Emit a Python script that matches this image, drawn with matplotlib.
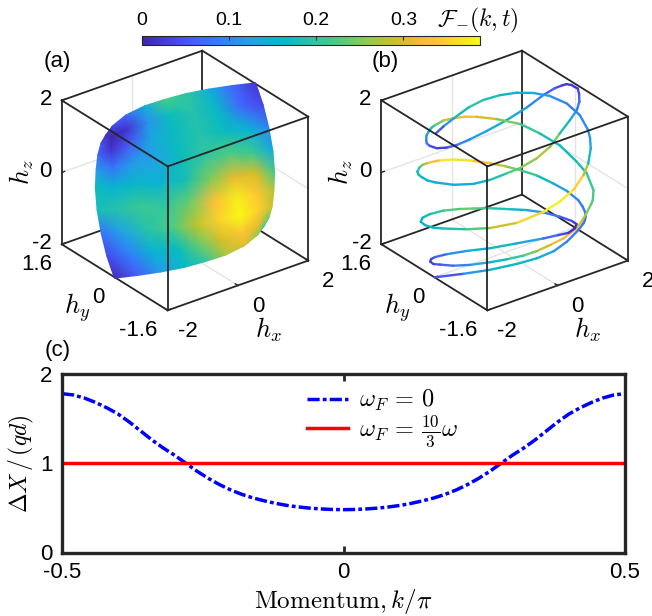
import numpy as np
import matplotlib
matplotlib.use("Agg")
import matplotlib.pyplot as plt
from matplotlib.cm import ScalarMappable
from matplotlib.colors import LinearSegmentedColormap, Normalize
from mpl_toolkits.mplot3d import proj3d
from mpl_toolkits.mplot3d.art3d import Line3DCollection

plt.rcParams['font.family'] = ['Liberation Sans', 'DejaVu Sans']
plt.rcParams['mathtext.fontset'] = 'cm'
plt.rcParams['axes.unicode_minus'] = False

# parula colours
parula_colors = [(0.2422, 0.1504, 0.6603), (0.2706, 0.2147, 0.8364), (0.2813, 0.3006, 0.9414),
                 (0.2699, 0.3892, 0.9906), (0.1963, 0.4847, 0.9892), (0.1687, 0.5703, 0.9359),
                 (0.1248, 0.6459, 0.8883), (0.0297, 0.7082, 0.8163), (0.0433, 0.7411, 0.7394),
                 (0.1717, 0.7670, 0.6554), (0.2470, 0.7918, 0.5567), (0.3909, 0.8029, 0.4354),
                 (0.5616, 0.7942, 0.3045), (0.7242, 0.7698, 0.1910), (0.8634, 0.7406, 0.1596),
                 (0.9728, 0.7298, 0.2394), (0.9952, 0.7861, 0.1967), (0.9628, 0.8903, 0.1301),
                 (0.9769, 0.9839, 0.0805)]
parula = LinearSegmentedColormap.from_list('parula', parula_colors)
f_max = 0.388
cbar_ticks = [0, 0.1, 0.2, 0.3]

# panel (a), the sheet, row by row from the lower edge to the upper edge
sheet_x = [[-2.00, -1.59, -1.18, -0.77, -0.39, -0.03, 0.31, 0.57, 0.73],
           [-1.94, -1.54, -1.13, -0.70, -0.30, 0.09, 0.46, 0.76, 0.98],
           [-1.85, -1.47, -1.05, -0.62, -0.20, 0.21, 0.60, 0.94, 1.20],
           [-1.74, -1.37, -0.97, -0.53, -0.11, 0.31, 0.73, 1.10, 1.40],
           [-1.59, -1.25, -0.86, -0.43, 0.00, 0.43, 0.86, 1.25, 1.59],
           [-1.40, -1.10, -0.73, -0.31, 0.11, 0.53, 0.97, 1.37, 1.74],
           [-1.20, -0.94, -0.60, -0.21, 0.20, 0.62, 1.05, 1.47, 1.85],
           [-0.98, -0.76, -0.46, -0.09, 0.30, 0.70, 1.13, 1.54, 1.94],
           [-0.73, -0.57, -0.31, 0.03, 0.39, 0.77, 1.18, 1.59, 2.00]]
sheet_y = [[0.01, -0.26, -0.53, -0.80, -1.04, -1.26, -1.46, -1.59, -1.62],
           [0.30, 0.04, -0.23, -0.51, -0.78, -1.02, -1.25, -1.42, -1.50],
           [0.57, 0.32, 0.05, -0.24, -0.51, -0.78, -1.03, -1.23, -1.36],
           [0.81, 0.59, 0.32, 0.03, -0.25, -0.53, -0.80, -1.03, -1.20],
           [1.02, 0.82, 0.57, 0.29, 0.00, -0.29, -0.57, -0.82, -1.02],
           [1.20, 1.03, 0.80, 0.53, 0.25, -0.03, -0.32, -0.59, -0.81],
           [1.36, 1.23, 1.03, 0.78, 0.51, 0.24, -0.05, -0.32, -0.57],
           [1.50, 1.42, 1.25, 1.02, 0.78, 0.51, 0.23, -0.04, -0.30],
           [1.62, 1.59, 1.46, 1.26, 1.04, 0.80, 0.53, 0.26, -0.01]]
sheet_z = [[-2.03, -1.94, -1.83, -1.69, -1.52, -1.34, -1.09, -0.80, -0.59],
           [-1.61, -1.56, -1.46, -1.35, -1.23, -1.09, -0.89, -0.67, -0.51],
           [-1.15, -1.11, -1.03, -0.95, -0.86, -0.75, -0.61, -0.45, -0.35],
           [-0.68, -0.65, -0.58, -0.50, -0.44, -0.37, -0.27, -0.15, -0.09],
           [-0.25, -0.22, -0.14, -0.06, 0.00, 0.06, 0.14, 0.22, 0.25],
           [0.09, 0.15, 0.27, 0.37, 0.44, 0.50, 0.58, 0.65, 0.68],
           [0.35, 0.45, 0.61, 0.75, 0.86, 0.95, 1.03, 1.11, 1.15],
           [0.51, 0.67, 0.89, 1.09, 1.23, 1.35, 1.46, 1.56, 1.61],
           [0.59, 0.80, 1.09, 1.34, 1.52, 1.69, 1.83, 1.94, 2.03]]
sheet_f = [[0.01, 0.06, 0.12, 0.16, 0.20, 0.27, 0.31, 0.26, 0.19],
           [0.04, 0.09, 0.15, 0.17, 0.24, 0.30, 0.34, 0.31, 0.24],
           [0.08, 0.13, 0.19, 0.22, 0.28, 0.35, 0.385, 0.35, 0.29],
           [0.18, 0.19, 0.21, 0.20, 0.24, 0.33, 0.375, 0.34, 0.28],
           [0.17, 0.15, 0.16, 0.15, 0.18, 0.25, 0.31, 0.30, 0.22],
           [0.12, 0.08, 0.12, 0.13, 0.17, 0.20, 0.225, 0.21, 0.14],
           [0.07, 0.02, 0.06, 0.135, 0.17, 0.19, 0.17, 0.15, 0.10],
           [0.05, 0.00, 0.02, 0.11, 0.17, 0.19, 0.16, 0.07, 0.04],
           [0.00, 0.04, 0.07, 0.14, 0.22, 0.20, 0.14, 0.07, 0.02]]

# panel (b), the curve
curve_x = [-2.00, -1.72, -1.45, -1.05, -0.68, -0.30, 0.05, 0.43, 0.63, 1.21, 0.74, 1.22, 1.18,
           1.79, 1.82, 1.77, 1.64, 1.46, 1.25, 1.01, 0.66, 0.24, -0.18, -0.60, -1.24, -0.98, -1.32, -1.30,
           -1.67, -1.17, -1.81, -1.79, -1.64, -1.45, -1.22, -1.00, -0.68, -0.29, 0.28, 0.85, 1.26, 1.55, 1.77,
           1.91, 1.90, 1.90, 1.83, 1.81, 1.78, 1.70, 1.54, 1.28, 0.95, 0.62, 0.32, 0.06, -0.23, -0.49, -1.18,
           -1.19, -1.18, -1.77, -1.11, -1.74, -1.46, -1.21, -0.96, -0.75, -0.45, -0.17, 0.53, 0.83, 1.09, 1.24,
           1.34, 1.33, 1.30, 0.78, 1.17, 0.37, -0.04, -0.38, -0.68, -0.94, -1.22, -1.45, -1.67, -1.79, -1.82,
           -1.63, -1.62, -1.53, -1.40, -1.10, -0.64, -0.14, 0.48, 1.11, 1.48, 1.73, 1.98, 1.92, 1.82, 1.80, 1.70,
           1.54, 1.32, 1.01, 0.69, 0.40, -0.03, -0.47, -0.79, -1.27, -1.73, -1.81, -1.82, -1.70, -1.45, -1.05,
           -0.53, -0.13, 0.26, 0.63, 0.88, 1.30, 1.29, 1.64, 1.78, 1.82, 1.75, 1.61, 1.42, 1.17, 0.89, 0.59, 0.24,
           -0.03, -0.26]
curve_y = [0.00, -0.59, -1.10, -1.49, -1.69, -1.80, -1.82, -1.77, -1.71, -1.14, -1.66, -1.14, -1.10,
           -0.32, 0.06, 0.42, 0.78, 1.09, 1.32, 1.52, 1.70, 1.80, 1.81, 1.72, 1.16, 1.53, 1.24, 1.22,
           0.73, 1.09, 0.18, -0.35, -0.80, -1.10, -1.36, -1.52, -1.69, -1.68, -1.37, -1.07, -0.84, -0.61, -0.37,
           -0.18, -0.10, 0.00, 0.08, 0.20, 0.38, 0.64, 0.97, 1.30, 1.55, 1.71, 1.79, 1.82, 1.81, 1.75, 1.10,
           1.11, 1.11, 0.42, 1.04, 0.25, 0.30, 0.26, 0.18, 0.05, -0.24, -0.65, -0.50, -0.78, -1.02, -1.16,
           -1.26, -1.25, -1.22, -1.64, -1.10, -1.78, -1.82, -1.78, -1.69, -1.56, -1.36, -1.10, -0.73, -0.35, 0.02,
           0.42, 0.53, 0.60, 0.62, 0.58, 0.46, 0.29, 0.15, 0.01, -0.05, -0.09, -0.02, -0.13, -0.09, 0.25, 0.64,
           0.97, 1.25, 1.52, 1.68, 1.78, 1.82, 1.76, 1.64, 1.19, 0.57, 0.23, -0.08, -0.66, -1.10, -1.49,
           -1.74, -1.81, -1.80, -1.71, -1.59, -1.22, -1.21, -0.78, -0.38, 0.06, 0.50, 0.85, 1.15, 1.39, 1.59, 1.72, 1.80,
           1.82, 1.80]
curve_z = [-2.00, -1.66, -1.35, -1.10, -0.96, -0.83, -0.68, -0.51, -0.43, -0.87, -0.31, -0.66, -0.50,
           -0.98, -0.95, -0.93, -0.87, -0.84, -0.79, -0.74, -0.65, -0.53, -0.42, -0.30, 0.20, -0.17, -0.01, -0.09,
           0.25, -0.22, 0.47, 0.70, 0.93, 1.15, 1.40, 1.56, 1.82, 2.00, 2.00, 2.00, 2.00, 2.00, 2.00,
           2.00, 2.00, 2.00, 2.00, 1.90, 1.73, 1.42, 0.94, 0.49, 0.16, -0.05, -0.15, -0.15, -0.06, 0.13, 0.81,
           0.90, 1.02, 1.73, 1.25, 2.00, 2.00, 2.00, 2.00, 2.00, 2.00, 2.00, 1.41, 1.14, 0.73, 0.44,
           -0.01, -0.29, -0.43, -0.24, -0.89, -0.44, -0.55, -0.64, -0.76, -0.87, -0.99, -1.14, -1.35, -1.55, -1.72,
           -2.00, -2.00, -2.00, -2.00, -2.00, -2.00, -2.00, -2.00, -2.00, -2.00, -2.00, -2.00, -1.80, -1.70, -1.77, -1.84,
           -1.91, -1.97, -1.99, -1.98, -1.95, -1.87, -1.78, -1.70, -1.39, -0.97, -0.82, -0.66, -0.39, -0.19, 0.04,
           0.31, 0.50, 0.68, 0.91, 1.08, 1.14, 1.42, 1.28, 1.42, 1.48, 1.46, 1.39, 1.29, 1.17, 1.02, 0.84, 0.61,
           0.47, 0.37]
curve_f = [0.02, 0.08, 0.15, 0.17, 0.15, 0.12, 0.09, 0.08, 0.08, 0.08, 0.08, 0.08, 0.08,
           0.09, 0.11, 0.14, 0.19, 0.23, 0.27, 0.31, 0.35, 0.38, 0.36, 0.29, 0.26, 0.22, 0.18, 0.17,
           0.16, 0.15, 0.14, 0.13, 0.14, 0.17, 0.21, 0.24, 0.27, 0.28, 0.21, 0.15, 0.10, 0.07, 0.05,
           0.03, 0.02, 0.02, 0.02, 0.03, 0.05, 0.07, 0.12, 0.15, 0.14, 0.11, 0.08, 0.04, 0.02, 0.05, 0.07,
           0.09, 0.11, 0.14, 0.17, 0.20, 0.27, 0.31, 0.33, 0.32, 0.27, 0.22, 0.19, 0.17, 0.17, 0.19,
           0.22, 0.22, 0.23, 0.26, 0.28, 0.31, 0.33, 0.31, 0.26, 0.22, 0.18, 0.15, 0.11, 0.08, 0.05,
           0.04, 0.03, 0.03, 0.05, 0.08, 0.13, 0.17, 0.16, 0.09, 0.05, 0.02, 0.01, 0.01, 0.03, 0.06, 0.10,
           0.14, 0.17, 0.20, 0.24, 0.24, 0.21, 0.18, 0.16, 0.15, 0.15, 0.16, 0.17, 0.20, 0.25, 0.33,
           0.38, 0.38, 0.37, 0.33, 0.22, 0.13, 0.12, 0.11, 0.09, 0.09, 0.11, 0.13, 0.15, 0.16, 0.20, 0.19, 0.15,
           0.08, 0.02]

# panel (c)
k_vals = [-0.5, -0.48, -0.46, -0.44, -0.42, -0.40, -0.38, -0.36, -0.34, -0.32, -0.30, -0.28, -0.26, -0.24, -0.22,
          -0.20, -0.18, -0.16, -0.14, -0.12, -0.10, -0.08, -0.06, -0.04, -0.02, 0,
          0.02, 0.04, 0.06, 0.08, 0.10, 0.12, 0.14, 0.16, 0.18, 0.20, 0.22, 0.24, 0.26, 0.28, 0.30,
          0.32, 0.34, 0.36, 0.38, 0.40, 0.42, 0.44, 0.46, 0.48, 0.5]
dx_static = [1.78, 1.765, 1.73, 1.68, 1.62, 1.55, 1.46, 1.36, 1.26, 1.17, 1.09, 1.00, 0.91, 0.83, 0.76,
             0.70, 0.65, 0.61, 0.578, 0.55, 0.527, 0.51, 0.497, 0.488, 0.482, 0.48,
             0.482, 0.488, 0.497, 0.51, 0.527, 0.55, 0.578, 0.61, 0.65, 0.70, 0.76, 0.83, 0.91, 1.00, 1.09,
             1.17, 1.26, 1.36, 1.46, 1.55, 1.62, 1.68, 1.73, 1.765, 1.78]
dx_driven = [1.0] * len(k_vals)

x_ticks = [-2, 0, 2]
y_ticks = [-1.6, 0, 1.6]
z_ticks = [-2, 0, 2]

W, H = 652, 616
fig = plt.figure(figsize=(W / 100, H / 100), dpi=100)
edge_col = '#262626'
grid_col = '#e4e4e4'
norm = Normalize(0, f_max)


def project(ax, xs, ys, zs):
    a, b, _ = proj3d.proj_transform(np.ravel(xs), np.ravel(ys), np.ravel(zs), ax.get_proj())
    return a.reshape(np.shape(xs)), b.reshape(np.shape(xs))


def make_box(left_px):
    # ax size from the wanted length of the cube edges in pixels
    size = 288.8
    pos = [left_px / W, 287.2 / H, size / W, size / H]
    ax = fig.add_axes(pos, projection='3d')
    ax.set_proj_type('ortho')
    ax.view_init(elev=28, azim=-127)
    ax.set_xlim(-2, 2, view_margin=0)
    ax.set_ylim(-1.6, 1.6, view_margin=0)
    ax.set_zlim(-2, 2, view_margin=0)
    ax.set_box_aspect((176, 176, 163))
    ax.set_xticks([])
    ax.set_yticks([])
    ax.set_zticks([])
    ax.set_axis_off()
    ax.patch.set_alpha(0)

    # grid on the three back walls
    for t in x_ticks[1:-1]:
        ax.plot([t, t], [1.6, 1.6], [-2, 2], color=grid_col, lw=1)
        ax.plot([t, t], [-1.6, 1.6], [-2, -2], color=grid_col, lw=1)
    for t in y_ticks[1:-1]:
        ax.plot([2, 2], [t, t], [-2, 2], color=grid_col, lw=1)
        ax.plot([-2, 2], [t, t], [-2, -2], color=grid_col, lw=1)
    for t in z_ticks[1:-1]:
        ax.plot([-2, 2], [1.6, 1.6], [t, t], color=grid_col, lw=1)
        ax.plot([2, 2], [-1.6, 1.6], [t, t], color=grid_col, lw=1)

    # back and lower edges
    for e in [([-2, 2], [1.6, 1.6], [2, 2]), ([2, 2], [-1.6, 1.6], [2, 2]), ([2, 2], [1.6, 1.6], [-2, 2]),
              ([-2, 2], [1.6, 1.6], [-2, -2]), ([2, 2], [-1.6, 1.6], [-2, -2]),
              ([-2, -2], [1.6, 1.6], [-2, 2]), ([2, 2], [-1.6, -1.6], [-2, 2]),
              ([-2, 2], [-1.6, -1.6], [-2, -2]), ([-2, -2], [-1.6, 1.6], [-2, -2])]:
        ax.plot(*e, color=edge_col, lw=1.3)

    # ticks
    for t in x_ticks:
        ax.plot([t, t], [-1.6, -1.52], [-2, -2], color=edge_col, lw=1)
        ax.text(t, -2.2, -2.25, str(t), ha='center', va='center', fontsize=16)
    for t in y_ticks:
        ax.plot([-2, -1.92], [t, t], [-2, -2], color=edge_col, lw=1)
        ax.text(-2.28, t, -2.46, str(t), ha='right', va='center', fontsize=16)
    for t in z_ticks:
        ax.plot([-2, -1.92], [1.6, 1.6], [t, t], color=edge_col, lw=1)
        ax.text(-2.28, 1.6, t + 0.13, str(t), ha='right', va='center', fontsize=16)

    ax.text(0.29, -2.2, -3.0, r'$h_x$', ha='center', va='center', fontsize=19)
    ax.text(-2.2, 0.92, -3.31, r'$h_y$', ha='center', va='center', fontsize=19)
    ax.text(-3.15, 1.6, 0.41, r'$h_z$', zdir='z', ha='center', va='center', fontsize=19)

    # second layer on the same spot, for what lies over the 3d content
    top = fig.add_axes(pos)
    top.set_xlim(-0.095, 0.09)
    top.set_ylim(-0.095, 0.09)
    top.set_xticks([])
    top.set_yticks([])
    top.set_axis_off()
    return ax, top


def front_edges(ax, top):
    for e in [([-2, -2], [-1.6, 1.6], [2, 2]), ([-2, 2], [-1.6, -1.6], [2, 2]), ([-2, -2], [-1.6, -1.6], [-2, 2])]:
        a, b = project(ax, *e)
        top.plot(a, b, color=edge_col, lw=1.3, zorder=5)


# (a)
ax_a, top_a = make_box(36.7)
px, py = project(ax_a, np.array(sheet_x), np.array(sheet_y), np.array(sheet_z))
top_a.pcolormesh(px, py, np.array(sheet_f), shading='gouraud', cmap=parula, norm=norm, zorder=2)
front_edges(ax_a, top_a)

# (b)
ax_b, top_b = make_box(356.4)
pts = np.column_stack([curve_x, curve_y, curve_z])
segs = np.stack([pts[:-1], pts[1:]], axis=1)
seg_f = (np.array(curve_f[:-1]) + np.array(curve_f[1:])) / 2
ax_b.add_collection3d(Line3DCollection(segs, colors=parula(norm(seg_f)), linewidths=1.7, capstyle='round'))
front_edges(ax_b, top_b)

fig.text(57 / W, 1 - 62 / H, '(a)', fontsize=16, ha='center', va='center')
fig.text(385 / W, 1 - 62 / H, '(b)', fontsize=16, ha='center', va='center')
fig.text(58 / W, 1 - 350 / H, '(c)', fontsize=16, ha='center', va='center')

# colorbar
cax = fig.add_axes([142 / W, 1 - 44.5 / H, 338 / W, 9 / H])
cb = fig.colorbar(ScalarMappable(norm=norm, cmap=parula), cax=cax, orientation='horizontal')
cb.set_ticks(cbar_ticks)
cb.set_ticklabels(['0', '0.1', '0.2', '0.3'])
cax.xaxis.set_ticks_position('top')
cax.tick_params(direction='in', length=3, width=0.8, labelsize=14, pad=5, color=edge_col)
cb.outline.set_linewidth(0.8)
cb.outline.set_edgecolor(edge_col)
fig.text(478 / W, 1 - 20 / H, r'$\mathcal{F}_{-}(k,t)$', fontsize=17, ha='center', va='center')

# (c)
ax_c = fig.add_axes([62 / W, 1 - 552.5 / H, 563 / W, 178.5 / H])
ax_c.plot(k_vals, dx_static, color='#0000ff', lw=2.5, dashes=(3.5, 0.9, 1.1, 0.9), label=r'$\omega_F\,=\,0$')
ax_c.plot(k_vals, dx_driven, color='#ff0000', lw=2.5, label=r'$\omega_F\,=\,\frac{10}{3}\omega$')
ax_c.set_xlim(-0.5, 0.5)
ax_c.set_ylim(0, 2)
ax_c.set_xticks([-0.5, 0, 0.5])
ax_c.set_xticklabels(['-0.5', '0', '0.5'])
ax_c.set_yticks([0, 1, 2])
ax_c.tick_params(direction='in', top=True, right=True, length=5, width=2, labelsize=16, color=edge_col, pad=7)
for s in ax_c.spines.values():
    s.set_linewidth(2.4)
    s.set_color(edge_col)
ax_c.set_xlabel(r'$\mathrm{Momentum},k/\pi$', fontsize=18, labelpad=3)
ax_c.set_ylabel(r'$\Delta X\,/\,(qd)$', fontsize=17, labelpad=3)
ax_c.legend(loc='upper left', bbox_to_anchor=(0.4, 1.03), frameon=False, fontsize=17.5, handlelength=1.7,
            labelspacing=0.0, handletextpad=0.45, borderpad=0.3)

fig.savefig('out.png', dpi=100)
